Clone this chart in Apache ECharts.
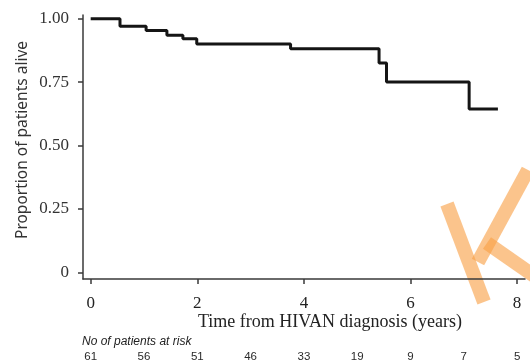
<!DOCTYPE html>
<html>
<head>
<meta charset="utf-8">
<script src="https://cdn.jsdelivr.net/npm/echarts@6/dist/echarts.min.js"></script>
<style>html,body{margin:0;padding:0;background:#fff;}#c{width:530px;height:363px;}</style>
</head>
<body>
<div id="c"></div>
<script>
// Kaplan-Meier step points: [time (years), proportion alive]
const times = [0, 0.55, 1.04, 1.43, 1.73, 1.99, 3.75, 5.41, 5.55, 7.10, 7.64];
const survival = [1.00, 0.970, 0.953, 0.935, 0.921, 0.900, 0.881, 0.825, 0.750, 0.644, 0.644];
const xTicks = [0, 2, 4, 6, 8];
const yTicks = [0, 0.25, 0.5, 0.75, 1.0];
const yTickLabels = ['0', '0.25', '0.50', '0.75', '1.00'];
const riskYears = [0, 1, 2, 3, 4, 5, 6, 7, 8];
const atRisk = [61, 56, 51, 46, 33, 19, 9, 7, 5];

const chart = echarts.init(document.getElementById('c'), null, {renderer: 'canvas'});
const serif = '"Liberation Serif", "DejaVu Serif", serif';
const axisColor = '#3a3a3a';
chart.setOption({
  animation: false,
  backgroundColor: '#fff',
  grid: {left: 83, right: 5, top: 15, bottom: 83},
  xAxis: [{
    type: 'value', min: -0.144, max: 8.148,
    splitLine: {show: false},
    axisLine: {onZero: false, lineStyle: {color: axisColor, width: 1.5}},
    axisTick: {customValues: xTicks, length: 5, inside: false, lineStyle: {color: axisColor, width: 1.5}},
    axisLabel: {customValues: xTicks, margin: 16, fontFamily: serif, fontSize: 17, color: '#222'}
  }, {
    type: 'value', min: -0.144, max: 8.148, position: 'bottom', offset: 72,
    splitLine: {show: false}, axisLine: {show: false, onZero: false}, axisTick: {show: false},
    axisLabel: {customValues: riskYears, margin: 0, fontFamily: '"Liberation Sans", Arial, sans-serif', fontSize: 11.5, color: '#2a2a2a',
      formatter: v => String(atRisk[riskYears.indexOf(Math.round(v))])}
  }],
  yAxis: {
    type: 'value', min: -0.0263, max: 1.0145,
    splitLine: {show: false},
    axisLine: {onZero: false, lineStyle: {color: axisColor, width: 1.5}},
    axisTick: {customValues: yTicks, length: 5, lineStyle: {color: axisColor, width: 1.5}},
    axisLabel: {customValues: yTicks, margin: 14, fontFamily: serif, fontSize: 17, color: '#333',
      formatter: v => yTickLabels[yTicks.indexOf(v)] !== undefined ? yTickLabels[yTicks.indexOf(v)] : ''}
  },
  series: [{
    type: 'line', step: 'end', symbol: 'none',
    data: times.map((t, i) => [t, survival[i]]),
    lineStyle: {color: '#151515', width: 3}
  }],
  graphic: [
    {type: 'text', x: 23, y: 140, rotation: Math.PI / 2, style: {text: 'Proportion of patients alive', font: '15.5px "Noto Sans", "Open Sans", sans-serif', fill: '#333', align: 'center', verticalAlign: 'middle'}},
    {type: 'text', left: 198, top: 313, style: {text: 'Time from HIVAN diagnosis (years)', font: '18px "Liberation Serif", serif', fill: '#222'}},
    {type: 'text', left: 82, top: 336, style: {text: 'No of patients at risk', font: 'italic 12px "Liberation Sans", Arial, sans-serif', fill: '#222'}},
    {type: 'line', shape: {x1: 447, y1: 204, x2: 484, y2: 302}, style: {stroke: 'rgba(249,160,70,0.62)', lineWidth: 14}},
    {type: 'line', shape: {x1: 528, y1: 170, x2: 478, y2: 262}, style: {stroke: 'rgba(249,160,70,0.62)', lineWidth: 14}},
    {type: 'line', shape: {x1: 487, y1: 243, x2: 540, y2: 280}, style: {stroke: 'rgba(249,160,70,0.62)', lineWidth: 14}}
  ]
});
</script>
</body>
</html>
